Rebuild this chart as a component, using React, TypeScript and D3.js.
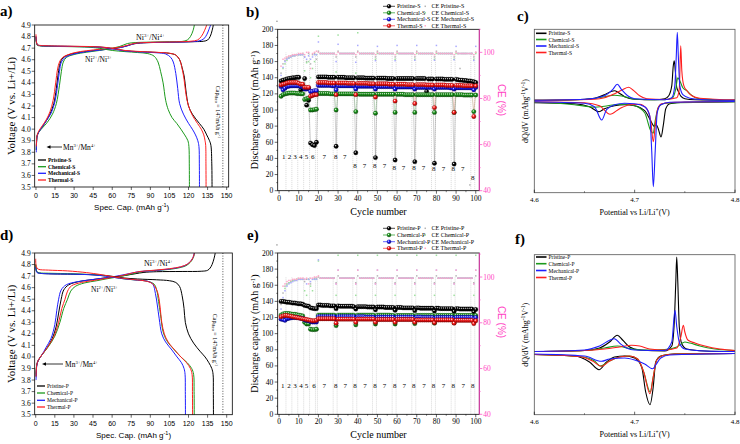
import React from "react";
import * as d3 from "d3";

const SERIF = "'Liberation Serif','DejaVu Serif',serif";
const SANS = "'Liberation Sans','DejaVu Sans',sans-serif";
const COLORS = ["#000000", "#1c9a1c", "#1f1fff", "#ff1f1f"];
const EDGES = ["#000000", "#0b4d0b", "#00007a", "#8a0000"];
const CE_COLORS = ["#b5b5b5", "#9fe09f", "#aaaaff", "#ffa8c8"];
const PINK = "#ff3fc3";

const namesS = ["Pristine-S", "Chemical-S", "Mechanical-S", "Thermal-S"];
const namesP = ["Pristine-P", "Chemical-P", "Mechanical-P", "Thermal-P"];
const ceNamesS = ["CE Pristine-S", "CE Chemical-S", "CE Mechanical-S", "CE Thermal-S"];
const ceNamesP = ["CE Pristine-P", "CE Chemical-P", "CE Mechanical-P", "CE Thermal-P"];

// tick labels
const voltTicks = [3.5, 3.6, 3.7, 3.8, 3.9, 4.0, 4.1, 4.2, 4.3, 4.4, 4.5, 4.6, 4.7, 4.8, 4.9];
const specCapTicks = [0, 15, 30, 45, 60, 75, 90, 105, 120, 135, 150];
const cycleTicks = [0, 10, 20, 30, 40, 50, 60, 70, 80, 90, 100];
const capacityTicks = [0, 20, 40, 60, 80, 100, 120, 140, 160, 180, 200];
const ceTicks = [40, 60, 80, 100];
const potTicks = [4.6, 4.7, 4.8];

type P2 = [number, number];

// ---------- panel a (S) voltage profiles: [capacity, voltage]
const aChargePristine: P2[] = [[0.3,3.82],[0.5,3.9],[1,3.95],[2.5,3.98],[5,4.02],[8,4.07],[11,4.13],[14,4.22],[16,4.35],[17.5,4.48],[19,4.57],[21,4.615],[25,4.64],[30,4.655],[40,4.672],[50,4.685],[58,4.693],[65,4.703],[70,4.715],[75,4.732],[80,4.742],[90,4.748],[110,4.752],[125,4.756],[132,4.76],[135,4.77],[137,4.8],[138.5,4.85],[139.5,4.9]];
const aChargeChemical: P2[] = [[0.3,3.82],[0.8,3.93],[2,3.97],[5,4.01],[9,4.06],[13,4.13],[16,4.22],[18.5,4.38],[20,4.5],[21.5,4.58],[24,4.62],[30,4.645],[40,4.665],[50,4.68],[60,4.7],[66,4.715],[72,4.74],[78,4.748],[90,4.752],[105,4.755],[115,4.758],[119,4.77],[121.5,4.8],[123.5,4.85],[124.6,4.9]];
const aChargeMechanical: P2[] = [[0.3,3.8],[0.8,3.93],[2,3.97],[5,4.02],[8,4.07],[12,4.14],[15,4.24],[17,4.38],[18.5,4.5],[20,4.58],[23,4.62],[30,4.65],[40,4.67],[50,4.683],[58,4.692],[65,4.702],[72,4.72],[78,4.74],[85,4.747],[100,4.75],[120,4.755],[128,4.762],[132,4.78],[134.5,4.82],[136,4.86],[137.4,4.9]];
const aChargeThermal: P2[] = [[0.3,3.85],[0.8,3.94],[2,3.98],[5,4.03],[8,4.08],[11,4.15],[13.5,4.25],[15.5,4.4],[17,4.52],[18.5,4.58],[21,4.62],[30,4.66],[40,4.678],[50,4.69],[58,4.698],[65,4.707],[72,4.725],[78,4.742],[90,4.75],[110,4.754],[122,4.76],[127,4.77],[130,4.8],[132.5,4.85],[134.3,4.9]];
const aDisPristine: P2[] = [[0,4.8],[0.3,4.76],[1,4.73],[3,4.722],[10,4.718],[30,4.715],[45,4.712],[55,4.705],[62,4.693],[70,4.678],[80,4.67],[95,4.663],[105,4.655],[110,4.64],[113,4.6],[115,4.53],[116.7,4.45],[118,4.33],[120,4.2],[123,4.13],[128.5,4.05],[132,4.0],[134.3,3.95],[136.5,3.9],[137.6,3.86],[138.3,3.7],[138.5,3.5]];
const aDisChemical: P2[] = [[0,4.79],[0.3,4.75],[1,4.725],[3,4.72],[10,4.716],[30,4.712],[45,4.705],[52,4.695],[60,4.68],[70,4.67],[80,4.662],[88,4.653],[93,4.63],[96,4.58],[98,4.5],[100,4.4],[102,4.25],[104,4.17],[107,4.1],[110.7,4.05],[114,4.0],[117,3.95],[119.5,3.9],[120.3,3.85],[120.6,3.7],[120.7,3.5]];
const aDisMechanical: P2[] = [[0,4.8],[0.3,4.76],[1,4.73],[3,4.722],[10,4.718],[30,4.714],[45,4.711],[55,4.703],[62,4.69],[70,4.676],[80,4.668],[95,4.66],[102,4.65],[106,4.62],[108,4.58],[110,4.48],[111.5,4.35],[113,4.22],[116,4.13],[120,4.05],[123,4.0],[125.5,3.95],[127.3,3.9],[128.2,3.85],[128.5,3.7],[128.6,3.5]];
const aDisThermal: P2[] = [[0,4.82],[0.3,4.76],[1,4.73],[3,4.724],[10,4.72],[30,4.716],[45,4.713],[55,4.706],[62,4.694],[70,4.68],[80,4.672],[95,4.664],[105,4.656],[110,4.64],[113,4.6],[115,4.52],[116.5,4.43],[118,4.3],[120,4.2],[123,4.12],[127,4.05],[130,4.0],[132,3.95],[133,3.9],[133.5,3.86],[133.7,3.7],[133.8,3.5]];

// ---------- panel d (P) voltage profiles
const dChargePristine: P2[] = [[0.3,3.83],[0.8,3.93],[2,3.97],[5,4.02],[9,4.08],[13,4.16],[16,4.26],[18,4.38],[20,4.5],[22,4.58],[26,4.625],[35,4.655],[45,4.67],[55,4.685],[63,4.695],[70,4.705],[78,4.72],[85,4.732],[95,4.738],[115,4.74],[130,4.742],[135,4.75],[137,4.77],[138.5,4.8],[140,4.85],[141,4.9]];
const dChargeChemical: P2[] = [[0.3,3.85],[0.8,3.93],[2,3.97],[5,4.02],[10,4.09],[15,4.18],[19,4.3],[22,4.42],[25,4.5],[27.5,4.57],[31,4.61],[38,4.64],[48,4.66],[56,4.677],[63,4.69],[69,4.703],[76,4.72],[84,4.74],[92,4.748],[102,4.755],[111,4.768],[118,4.79],[121.5,4.82],[123.8,4.86],[124.8,4.9]];
const dChargeMechanical: P2[] = [[0.3,3.8],[0.8,3.92],[2,3.97],[5,4.02],[8,4.08],[12,4.16],[15,4.28],[16.5,4.4],[18,4.5],[20,4.58],[24,4.625],[33,4.652],[43,4.668],[53,4.682],[60,4.693],[66,4.705],[75,4.725],[82,4.74],[90,4.745],[100,4.755],[110,4.77],[117,4.79],[121,4.82],[123.5,4.86],[124.5,4.9]];
const dChargeThermal: P2[] = [[0.3,3.83],[0.8,3.93],[2,3.97],[5,4.02],[9,4.08],[14,4.17],[18,4.3],[20.5,4.42],[23,4.5],[25,4.57],[28,4.615],[36,4.645],[46,4.663],[55,4.68],[62,4.692],[68,4.705],[75,4.725],[82,4.74],[90,4.748],[100,4.758],[110,4.772],[117,4.792],[121,4.82],[123.5,4.86],[124.6,4.9]];
const dDisPristine: P2[] = [[0,4.8],[0.3,4.76],[1,4.735],[3,4.725],[10,4.72],[30,4.716],[45,4.712],[55,4.705],[62,4.695],[70,4.683],[80,4.675],[95,4.668],[105,4.66],[110,4.645],[113,4.61],[115,4.53],[116.5,4.42],[117.5,4.3],[120,4.2],[124,4.12],[129,4.05],[133,4.0],[136,3.95],[138.3,3.9],[139.3,3.85],[139.5,3.7],[139.6,3.5]];
const dDisChemical: P2[] = [[0,4.8],[0.3,4.76],[1,4.735],[3,4.728],[10,4.725],[30,4.72],[45,4.712],[55,4.7],[62,4.688],[70,4.675],[80,4.665],[88,4.655],[93,4.63],[95,4.58],[96.5,4.48],[98,4.37],[100,4.22],[103,4.14],[109,4.06],[114,4.0],[119,3.95],[122.5,3.9],[124,3.85],[124.4,3.7],[124.5,3.5]];
const dDisMechanical: P2[] = [[0,4.78],[0.3,4.75],[1,4.73],[3,4.725],[10,4.72],[30,4.717],[45,4.71],[55,4.7],[62,4.688],[70,4.676],[80,4.665],[88,4.655],[92,4.63],[94,4.55],[95.5,4.45],[97,4.33],[99,4.2],[102,4.13],[107,4.06],[111,4.0],[114.5,3.95],[116.5,3.9],[117.3,3.85],[117.5,3.7],[117.6,3.5]];
const dDisThermal: P2[] = [[0,4.85],[0.5,4.78],[2,4.76],[10,4.752],[25,4.745],[40,4.73],[50,4.715],[58,4.7],[66,4.685],[75,4.672],[85,4.66],[90,4.645],[93,4.62],[96,4.55],[97.5,4.45],[99,4.3],[101,4.2],[104,4.13],[110,4.05],[114,4.0],[118.5,3.95],[121.5,3.9],[122.8,3.85],[123.1,3.7],[123.2,3.5]];

// ---------- panel b (S) cycling
const capPristineS = [
136,137,137.5,138.5,139,139.5,140,140,140.5,140.5,
125,126,139,106,112,59,57,56,60,141,
141,141,141,141,140.5,140.5,140.5,140.5,55,140.5,
140.5,140.5,140.5,140,140,140,140,140,47,140,
140,140,140,139.5,139.5,139.5,139.5,139.5,41,139.5,
139.5,139.5,139.5,139.5,139,139,139,139,38,139,
139,139,139,139,139,139,139,139,36,139,
139,139,139,139,123,138.5,138.5,138.5,34,138.5,
138.5,138.5,138.5,138,138,138,138,138,33,138,
137.5,137,137,136.5,136.5,136,136,135.5,135,134];
const capChemicalS = [
117,119,120,120.5,121,121,121,121,120.5,120.5,
120,120,113,114,115,100,100,100.5,101,120.5,
120.5,120.5,120.5,120.5,120.5,120,120,120,100,120,
120,120,120,120,120,120,120,120,98,120,
119.5,119.5,119.5,119.5,119.5,119.5,119.5,119.5,96,119.5,
119.5,119.5,119.5,119.5,119.5,119.5,119.5,119.5,97,119.5,
119.5,119.5,119.5,119,119,119,119,119,97,119,
119,119,119,119,119,119,119,119,97,119,
119,119,119,119,119,119,119,119,97,119,
119,119,119,118.5,118.5,118.5,118.5,118.5,98,118.5];
const capMechanicalS = [
129,125,127,129,129.5,130,130,130,130,130,
129,129,126,126,127,123,123,124,124,130.5,
130.5,130.5,130.5,130.5,130.5,130.5,130,130,125,130,
130,130,130,130,130,130,130,130,126,129.5,
129.5,129.5,129.5,129.5,129.5,129.5,129.5,129.5,126,129,
129,129,129,129,129,129,129,129,126,128.5,
128.5,128.5,128.5,128.5,128.5,128.5,128.5,128.5,126,128,
128,128,128,128,128,128,128,128,126,128,
128,128,128,128,128,128,127.5,127.5,126,127.5,
127.5,127.5,127.5,127.5,127.5,127.5,127.5,127.5,125,128];
const capThermalS = [
131,132,132.5,133.5,134,134,134,134,134,133,
132,132,128,128,128,117,118,119,119,134,
134,134,134,134,133.5,133.5,133.5,133.5,119,133.5,
133.5,133.5,133.5,133.5,133,133,133,133,119,133,
133,133,133,133,133,132.5,132.5,132.5,116,132.5,
132.5,132.5,132.5,132.5,132.5,132,132,132,111,132,
132,132,132,132,131.5,131.5,131.5,131.5,108,131.5,
131.5,131.5,131.5,131.5,131,131,131,131,103,131,
131,131,131,131,130.5,130.5,130.5,130.5,97,130.5,
130.5,130.5,130.5,130,130,130,130,130,92,130];
const cePristineS = [
91,95,96.5,97.5,98,98.5,98.5,99,99,99,
99,99.5,98,96,99.5,95,99,99.5,97,100.5,
99.5,99.5,99.5,99.5,99.5,99.5,99.5,99.5,98,100.5,
99.5,99.5,99.5,99.5,99.5,99.5,99.5,99.5,98,100.5,
99.5,99.5,99.5,99.5,99.5,99.5,99.5,99.5,98,100.5,
99.5,99.5,99.5,99.5,99.5,99.5,99.5,99.5,98,100.5,
99.5,99.5,99.5,99.5,99.5,99.5,99.5,99.5,98,100.5,
99.5,99.5,99.5,99.5,99.5,99.5,99.5,99.5,98,100.5,
99.5,99.5,99.5,99.5,99.5,99.5,99.5,99.5,98,100.5,
99.5,93,99.5,99.5,99.5,86.5,42.5,99.5,98,100];
const ceChemicalS = [
88,93,95,96.5,97.5,98,98.5,98.5,99,99,
99,99,92,95.5,96,89,93,96,99,107,
99.5,99.5,99.5,99.5,99.5,99.5,99.5,99.5,91.5,107.5,
99.5,99.5,99.5,99.5,99.5,99.5,99.5,99.5,91,108.5,
99.5,99.5,99.5,99.5,99.5,99.5,99.5,99.5,97,99.5,
99.5,99.5,99.5,99.5,99.5,99.5,99.5,99.5,97,99.5,
99.5,99.5,99.5,99.5,99.5,99.5,99.5,99.5,97,99.5,
99.5,99.5,99.5,99.5,99.5,99.5,99.5,99.5,97,99.5,
99.5,99.5,99.5,99.5,99.5,99.5,99.5,99.5,97,99.5,
99.5,99.5,99.5,99.5,99.5,99.5,99.5,99.5,97,99.5];
const ceMechanicalS = [
90,93.5,96,97,97.5,98,98.5,98.5,99,99,
99,99,98,97,98.5,97,98,99,99,104.5,
99.5,99.5,99.5,99.5,99.5,99.5,99.5,99.5,96,103.5,
99.5,99.5,99.5,99.5,99.5,99.5,99.5,99.5,95.7,103,
99.5,99.5,99.5,99.5,99.5,99.5,99.5,99.5,96.4,102.6,
99.5,99.5,99.5,99.5,99.5,99.5,99.5,99.5,96.4,103,
99.5,99.5,99.5,99.5,99.5,99.5,99.5,99.5,96.6,103,
99.5,99.5,99.5,99.5,99.5,99.5,99.5,99.5,96.6,103,
99.5,99.5,99.5,99.5,99.5,99.5,99.5,99.5,96.8,102.6,
99.5,99.5,99.5,99.5,99.5,99.5,99.5,99.5,96.5,102.6];
const ceThermalS = [
94,97,97.5,98,98.5,98.5,99,99,99,99.5,
99.5,99.5,99,100,100,93,99.5,100,100.5,100,
99.5,99.5,99.5,99.5,99.5,99.5,99.5,99.5,99,100,
99.5,99.5,99.5,99.5,99.5,99.5,99.5,99.5,99,100,
99.5,99.5,99.5,99.5,99.5,99.5,99.5,99.5,99,100,
99.5,99.5,99.5,99.5,99.5,99.5,99.5,99.5,99,100,
99.5,99.5,99.5,99.5,99.5,99.5,99.5,99.5,99,100,
99.5,99.5,99.5,99.5,99.5,99.5,99.5,99.5,99,100,
99.5,99.5,99.5,99.5,99.5,99.5,99.5,99.5,99,100,
99.5,99.5,99.5,99.5,99.5,99.5,99.5,99.5,99,100];

// ---------- panel e (P) cycling
const capPristineP = [
140,140,139.5,139,139,138.5,138,138,137.5,137,
137,136.5,135,134.5,134,132,131.5,131,131,135.5,
135.5,135,135,135,135,134.5,134.5,134.5,131,134.5,
134,134,134,134,134,134,134,133.5,130.5,133.5,
133.5,133.5,133.5,133.5,133,133,133,133,129.5,133,
133,133,133,132.5,132.5,132.5,132.5,132.5,129,132.5,
132.5,132.5,132,132,132,132,132,132,128.5,132,
132,131.5,131.5,131.5,131.5,131.5,131.5,131.5,128,131.5,
131.5,131,131,131,131,131,131,131,127.5,131,
131,130.5,130.5,130.5,130.5,130.5,130.5,130.5,127,130];
const capChemicalP = [
123,124.5,125,125,125,124.5,124,124,123.5,123,
122.5,122,114,112,112,105.5,105,105,105.5,123,
123,123,123,123,123,123,123,123,110,123,
123,123,123,123,123,123,123,123,111,123,
123,123,123,123,123,123,123,123,112,123,
123,123,123,123,123,123,122.5,122.5,112,122.5,
122.5,122.5,122.5,122.5,122.5,122.5,122.5,122.5,112.5,122.5,
122.5,122.5,122.5,122.5,122.5,122.5,122.5,122.5,113,122.5,
122.5,122.5,122.5,122.5,122.5,122.5,122.5,122.5,113.5,122.5,
122.5,122.5,122.5,122.5,122.5,122.5,122.5,122.5,114,122.5];
const capMechanicalP = [
118,117.5,116.5,118.5,119,119.5,120,120,120,119.5,
119,119,117,116.5,116,115,114.5,114.5,114.5,121,
121,121,121,121,121,121,121,121,118,121,
121,121,121,121,121,121,121,121,119,121,
121,121,121,120.5,120.5,120.5,120.5,120.5,119,120.5,
120.5,120.5,120.5,120.5,120.5,120.5,120.5,120.5,119,120.5,
120.5,120.5,120.5,120.5,120.5,120.5,120.5,120.5,119,120.5,
120.5,120.5,120,120,120,120,120,120,118.5,120,
120,120,120,120,120,120,120,120,118.5,120,
120,120,120,120,120,120,120,120,118.5,120];
const capThermalP = [
121,122,122.5,122.5,122,121.5,121,120.5,120,119.5,
119,118.5,118,117.5,117,116.5,116,116,116.5,118.5,
118.5,118.5,118.5,118.5,118.5,118.5,118.5,118.5,113,118,
118,118,118,118,118,118,118,118,114,118,
118,118,118,118,118,118,118,118,114,117.5,
117.5,117.5,117.5,117.5,117.5,117.5,117.5,117.5,114,117.5,
117.5,117.5,117.5,117.5,117.5,117.5,117.5,117.5,114,117,
117,117,117,117,117,117,117,117,113.5,117,
117,117,117,117,117,117,117,117,113,116.5,
116.5,116.5,116.5,116.5,116.5,116.5,116.5,116.5,112.5,116];
const cePristineP = [
88,93,96,97,97.5,98,98.5,98.5,99,99,
99,99,98,99,99,97,99,99.5,99.5,100,
99.5,99.5,99.5,99.5,99.5,99.5,99.5,99.5,97.5,100.5,
99.5,99.5,99.5,99.5,99.5,99.5,99.5,99.5,97.5,100.5,
99.5,99.5,99.5,99.5,99.5,99.5,99.5,99.5,97.5,100.5,
99.5,99.5,99.5,99.5,99.5,99.5,99.5,99.5,97.5,100.5,
99.5,99.5,99.5,99.5,99.5,99.5,99.5,99.5,97.5,100.5,
99.5,99.5,99.5,99.5,99.5,99.5,99.5,99.5,97.5,100.5,
99.5,99.5,99.5,99.5,99.5,99.5,99.5,99.5,97.5,100.5,
99.5,99.5,99.5,99.5,99.5,99.5,99.5,99.5,97.5,100.5];
const ceChemicalP = [
84,90,95,96.5,97.5,98,98.5,98.5,99,99,
99,99,94,92,99,96,94,99,99,107,
99.5,99.5,99.5,99.5,99.5,99.5,99.5,99.5,92,109.5,
99.5,99.5,99.5,99.5,99.5,99.5,99.5,99.5,92,109.5,
99.5,99.5,99.5,99.5,99.5,99.5,99.5,99.5,92,109.5,
99.5,99.5,99.5,99.5,99.5,99.5,99.5,99.5,92,109.5,
99.5,99.5,99.5,99.5,99.5,99.5,99.5,99.5,92,109.5,
99.5,99.5,99.5,99.5,99.5,99.5,99.5,99.5,92,109.5,
99.5,99.5,99.5,99.5,99.5,99.5,99.5,99.5,92,109.5,
99.5,99.5,99.5,99.5,99.5,99.5,99.5,99.5,92,109.5];
const ceMechanicalP = [
86,91,94,96,97,97.5,98,98.5,98.5,99,
99,99,99,97,99,98,99,99,99,107.5,
99.5,99.5,99.5,99.5,99.5,99.5,99.5,99.5,97,103,
99.5,99.5,99.5,99.5,99.5,99.5,99.5,99.5,97,103,
99.5,99.5,99.5,99.5,99.5,99.5,99.5,99.5,97,103,
99.5,99.5,99.5,99.5,99.5,99.5,99.5,99.5,97,103,
99.5,99.5,99.5,99.5,99.5,99.5,99.5,99.5,97,103,
99.5,99.5,99.5,99.5,99.5,99.5,99.5,99.5,97,103,
99.5,99.5,99.5,99.5,99.5,99.5,99.5,99.5,97,103,
99.5,99.5,99.5,99.5,99.5,99.5,99.5,99.5,97,103];
const ceThermalP = [
90,96,97,98,98.5,98.5,99,99,99,99.5,
99.5,99.5,99,99.5,97,99.5,99.5,100,100,100.5,
99.5,99.5,99.5,99.5,99.5,99.5,99.5,99.5,97,103,
99.5,99.5,99.5,99.5,99.5,99.5,99.5,99.5,97,103,
99.5,99.5,99.5,99.5,99.5,99.5,99.5,99.5,97,103,
99.5,99.5,99.5,99.5,99.5,99.5,99.5,99.5,97,103,
99.5,99.5,99.5,99.5,99.5,99.5,99.5,99.5,97,103,
99.5,99.5,99.5,99.5,99.5,99.5,99.5,99.5,97,103,
99.5,99.5,99.5,99.5,99.5,99.5,99.5,99.5,97,103,
99.5,99.5,99.5,99.5,99.5,99.5,99.5,99.5,97,103];

const cycles = d3.range(1, 101);
const divCycles = [3.5,6.5,9.5,12.5,15.5,18.5,19.5,27.5,29.5,37.5,39.5,47.5,49.5,57.5,59.5,67.5,69.5,77.5,79.5,87.5,89.5,97.5,99.5];
const stepTexts = ["1","2","3","4","5","6","7","8","7","8","7","8","7","8","7","8","7","8","7","8","7","8"];
const stepCyclesS = [2.4,5.3,8.1,11,13.9,17.1,23,28.8,33.4,38.6,43.4,48.6,53.6,58.6,63.2,68.6,73.4,78.6,83.6,88.6,93.4,98.5];
const stepCapS = [42,42,42,42,42,42,42,42,42,31,31,31,31,29,29,29,29,28,28,28,28,16];
const stepCyclesP = [1.9,5,8.1,11.2,14,17.8,23,28.8,33.7,38.6,43.7,48.8,53.6,58.8,63.6,68.5,73.7,78.5,83.6,88.5,93.6,98.5];
const stepCapP = [36,36,36,36,36,36,36,36,36,36,36,36,36,36,36,36,36,36,36,36,36,36];

// ---------- panel c (S) dQ/dV : [potential, dQ/dV (arb.)]
const cChPristine: P2[] = [[4.6,5],[4.64,10],[4.66,25],[4.67,60],[4.676,90],[4.68,100],[4.684,80],[4.69,40],[4.7,15],[4.72,10],[4.73,20],[4.734,50],[4.737,150],[4.7385,350],[4.7395,400],[4.7405,300],[4.742,130],[4.744,85],[4.746,45],[4.75,20],[4.76,10],[4.8,5]];
const cChChemical: P2[] = [[4.6,5],[4.65,12],[4.67,40],[4.68,55],[4.688,45],[4.7,15],[4.73,10],[4.738,30],[4.741,120],[4.743,230],[4.745,200],[4.748,130],[4.752,100],[4.756,60],[4.762,25],[4.78,10],[4.8,5]];
const cChMechanical: P2[] = [[4.6,5],[4.65,15],[4.67,50],[4.678,110],[4.6827,164],[4.687,110],[4.693,50],[4.7,20],[4.73,10],[4.737,30],[4.74,150],[4.7415,450],[4.7425,684],[4.7435,450],[4.745,150],[4.748,60],[4.755,25],[4.77,10],[4.8,5]];
const cChThermal: P2[] = [[4.6,5],[4.66,15],[4.67,30],[4.68,70],[4.688,110],[4.694,134],[4.698,110],[4.705,50],[4.712,20],[4.73,12],[4.742,30],[4.7445,120],[4.7459,550],[4.747,300],[4.749,150],[4.752,100],[4.757,50],[4.765,25],[4.8,8]];
const cDisPristine: P2[] = [[4.6,-20],[4.64,-30],[4.655,-60],[4.6645,-110],[4.67,-80],[4.68,-50],[4.69,-40],[4.7,-50],[4.71,-100],[4.716,-200],[4.7195,-255],[4.7215,-240],[4.7235,-280],[4.7263,-363],[4.7285,-250],[4.731,-80],[4.735,-30],[4.75,-15],[4.8,-10]];
const cDisChemical: P2[] = [[4.6,-15],[4.64,-40],[4.655,-60],[4.66,-65],[4.67,-55],[4.68,-40],[4.69,-35],[4.7,-50],[4.71,-120],[4.716,-300],[4.7185,-326],[4.7205,-200],[4.724,-60],[4.73,-25],[4.8,-10]];
const cDisMechanical: P2[] = [[4.6,-10],[4.65,-25],[4.66,-60],[4.6672,-193],[4.672,-90],[4.68,-40],[4.69,-25],[4.7,-30],[4.71,-60],[4.715,-150],[4.717,-500],[4.7186,-860],[4.7205,-500],[4.7225,-120],[4.726,-40],[4.735,-15],[4.8,-8]];
const cDisThermal: P2[] = [[4.6,-10],[4.65,-20],[4.665,-50],[4.6755,-136],[4.685,-80],[4.695,-40],[4.705,-35],[4.712,-80],[4.716,-200],[4.7186,-410],[4.7205,-250],[4.723,-80],[4.727,-30],[4.74,-15],[4.8,-8]];

// ---------- panel f (P) dQ/dV
const fChPristine: P2[] = [[4.6,5],[4.65,15],[4.665,40],[4.675,100],[4.6827,167],[4.688,120],[4.695,50],[4.705,20],[4.73,10],[4.737,60],[4.7395,300],[4.741,700],[4.7419,950],[4.743,700],[4.7445,250],[4.747,80],[4.752,30],[4.77,10],[4.8,5]];
const fChChemical: P2[] = [[4.6,5],[4.65,15],[4.67,40],[4.6827,60],[4.695,35],[4.71,20],[4.73,25],[4.742,50],[4.75,100],[4.755,90],[4.765,60],[4.78,30],[4.8,15]];
const fChMechanical: P2[] = [[4.6,5],[4.65,20],[4.665,60],[4.6797,133],[4.686,80],[4.692,40],[4.7,20],[4.73,15],[4.737,100],[4.7402,417],[4.742,250],[4.745,80],[4.75,30],[4.77,10],[4.8,5]];
const fChThermal: P2[] = [[4.6,5],[4.65,15],[4.67,30],[4.685,50],[4.697,67],[4.705,60],[4.715,30],[4.73,20],[4.742,40],[4.746,150],[4.7485,267],[4.75,200],[4.753,120],[4.76,90],[4.77,60],[4.785,30],[4.8,15]];
const fDisPristine: P2[] = [[4.6,-25],[4.64,-40],[4.655,-100],[4.6645,-177],[4.672,-100],[4.68,-50],[4.69,-40],[4.7,-60],[4.707,-150],[4.711,-400],[4.7153,-527],[4.7185,-350],[4.721,-100],[4.726,-40],[4.74,-20],[4.8,-15]];
const fDisChemical: P2[] = [[4.6,-25],[4.645,-45],[4.66,-90],[4.6655,-140],[4.675,-90],[4.685,-50],[4.695,-40],[4.703,-70],[4.709,-200],[4.7155,-400],[4.7185,-250],[4.722,-80],[4.728,-35],[4.74,-20],[4.8,-15]];
const fDisMechanical: P2[] = [[4.6,-20],[4.65,-40],[4.667,-93],[4.675,-70],[4.69,-60],[4.7,-80],[4.71,-120],[4.718,-167],[4.721,-130],[4.726,-60],[4.735,-30],[4.8,-15]];
const fDisThermal: P2[] = [[4.6,-25],[4.645,-45],[4.658,-90],[4.667,-143],[4.675,-90],[4.685,-50],[4.695,-40],[4.703,-70],[4.709,-200],[4.7153,-417],[4.7185,-250],[4.722,-80],[4.728,-35],[4.74,-20],[4.8,-15]];

type Frame = { l: number; r: number; t: number; b: number };

function Title({ x, y, t }: { x: number; y: number; t: string }) {
  return <text x={x} y={y} fontFamily={SERIF} fontWeight="bold" fontSize={15}>{t}</text>;
}

function Ion({ x, y, fs, a, b, c, d }: any) {
  const s = fs * 0.62, up = fs * 0.42;
  return (
    <text x={x} y={y} fontFamily={SERIF} fontSize={fs}>
      {a}<tspan dy={-up} fontSize={s}>{b}</tspan><tspan dy={up}>{c}</tspan><tspan dy={-up} fontSize={s}>{d}</tspan>
    </text>
  );
}

function VoltPanel({ fr, xDom, charge, discharge, names, bold, legX, legY, capX, capY, ni34, ni23, mn, arrow, title }: any) {
  const x = d3.scaleLinear().domain(xDom).range([fr.l, fr.r]);
  const y = d3.scaleLinear().domain([3.5, 4.9]).range([fr.b, fr.t]);
  const line = d3.line<P2>().x(d => x(d[0])).y(d => y(d[1])).curve(d3.curveCatmullRom.alpha(0.5));
  const cy = (fr.t + fr.b) / 2;
  return (
    <g>
      <defs>
        <clipPath id={"clip" + title[0]}><rect x={fr.l} y={fr.t} width={fr.r - fr.l} height={fr.b - fr.t} /></clipPath>
      </defs>
      <line x1={x(147)} x2={x(147)} y1={fr.t} y2={fr.b} stroke="#555" strokeWidth={1} strokeDasharray="1 1.6" />
      <g clipPath={`url(#clip${title[0]})`}>
        {charge.map((c: P2[], k: number) => <path key={"c" + k} d={line(c) || ""} fill="none" stroke={COLORS[k]} strokeWidth={1} />)}
        {discharge.map((c: P2[], k: number) => <path key={"d" + k} d={line(c) || ""} fill="none" stroke={COLORS[k]} strokeWidth={1} />)}
      </g>
      <rect x={fr.l} y={fr.t} width={fr.r - fr.l} height={fr.b - fr.t} fill="none" stroke="#000" strokeWidth={0.8} />
      {voltTicks.map(v => (
        <g key={v}>
          <line x1={fr.l - 3} x2={fr.l} y1={y(v)} y2={y(v)} stroke="#000" strokeWidth={0.6} />
          <text x={fr.l - 4} y={y(v) + 2.5} textAnchor="end" fontFamily={SERIF} fontSize={7.5}>{v.toFixed(1)}</text>
        </g>
      ))}
      {specCapTicks.map(v => (
        <g key={v}>
          <line x1={x(v)} x2={x(v)} y1={fr.b} y2={fr.b + 3} stroke="#000" strokeWidth={0.6} />
          <text x={x(v)} y={fr.b + 11} textAnchor="middle" fontFamily={SANS} fontSize={7}>{v}</text>
        </g>
      ))}
      <text transform={`translate(15,${cy}) rotate(-90)`} textAnchor="middle" fontFamily={SERIF} fontSize={11}>Voltage (V vs. Li+/Li)</text>
      <text x={(fr.l + fr.r) / 2} y={fr.b + 23} textAnchor="middle" fontFamily={SANS} fontSize={8}>
        Spec. Cap. (mAh g<tspan dy={-3} fontSize={5.5}>-1</tspan><tspan dy={3}>)</tspan>
      </text>
      <text transform={`translate(${capX},${capY}) rotate(90)`} textAnchor="middle" fontFamily={SERIF} fontSize={6}>
        Cap<tspan dy={1.5} fontSize={4.2}>theo</tspan><tspan dy={-1.5}> = 147mAh g</tspan><tspan dy={-2} fontSize={4.2}>-1</tspan>
      </text>
      <Ion x={ni34[0]} y={ni34[1]} fs={8} a="Ni" b="3+" c="/Ni" d="4+" />
      <Ion x={ni23[0]} y={ni23[1]} fs={7.5} a="Ni" b="2+" c="/Ni" d="3+" />
      <Ion x={mn[0]} y={mn[1]} fs={7.5} a="Mn" b="3+" c="/Mn" d="4+" />
      <line x1={arrow[0] + 3} x2={arrow[1]} y1={arrow[2]} y2={arrow[2]} stroke="#000" strokeWidth={0.8} />
      <path d={`M${arrow[0]},${arrow[2]} l4,-1.8 l0,3.6 z`} fill="#000" />
      {names.map((n: string, k: number) => (
        <g key={n}>
          <line x1={legX} x2={legX + 8} y1={legY[k]} y2={legY[k]} stroke={COLORS[k]} strokeWidth={1.3} />
          <text x={legX + 10} y={legY[k] + 2} fontFamily={SERIF} fontSize={5.5} fontWeight={bold ? "bold" : "normal"}>{n}</text>
        </g>
      ))}
      <Title x={title[1]} y={title[2]} t={title[0]} />
    </g>
  );
}

function CyclePanel({ fr, ceMax, caps, ces, names, ceNames, stepX, stepY, legY, ceLabelY, title }: any) {
  const x = d3.scaleLinear().domain([-0.7, 101.8]).range([fr.l, fr.r]);
  const y = d3.scaleLinear().domain([0, 200]).range([fr.b, fr.t]);
  const yr = d3.scaleLinear().domain([40, ceMax]).range([fr.b, fr.t]);
  const line = d3.line<number>().x((_, i) => x(cycles[i])).y(d => y(d));
  const cy = (fr.t + fr.b) / 2;
  return (
    <g>
      {divCycles.map(c => <line key={c} x1={x(c)} x2={x(c)} y1={fr.b} y2={yr(100)} stroke="#b0b0b0" strokeWidth={0.6} strokeDasharray="0.8 1.2" />)}
      {ces.map((arr: number[], k: number) => arr.map((v, i) => (
        <rect key={k + "-" + i} x={x(cycles[i]) - 0.75} y={yr(v) - 0.75} width={1.5} height={1.5} fill={CE_COLORS[k]} />
      )))}
      {caps.map((arr: number[], k: number) => <path key={"l" + k} d={line(arr) || ""} fill="none" stroke={COLORS[k]} strokeOpacity={0.3} strokeWidth={0.6} />)}
      {caps.map((arr: number[], k: number) => arr.map((v, i) => (
        <circle key={k + "c" + i} cx={x(cycles[i])} cy={y(v)} r={2.2} fill={`url(#ball${k})`} stroke={EDGES[k]} strokeWidth={0.3} />
      )))}
      {stepX.map((c: number, i: number) => (
        <text key={"s" + i} x={x(c)} y={y(stepY[i]) + 2.5} textAnchor="middle" fontFamily={SERIF} fontSize={7}>{stepTexts[i]}</text>
      ))}
      <rect x={fr.l} y={fr.t} width={fr.r - fr.l} height={fr.b - fr.t} fill="none" stroke="#000" strokeWidth={0.8} />
      <line x1={fr.r} x2={fr.r} y1={fr.t} y2={fr.b} stroke={PINK} strokeWidth={0.9} />
      {capacityTicks.map(v => (
        <g key={v}>
          <line x1={fr.l - 3} x2={fr.l} y1={y(v)} y2={y(v)} stroke="#000" strokeWidth={0.6} />
          <line x1={fr.l - 1.5} x2={fr.l} y1={y(v + 10)} y2={y(v + 10)} stroke="#000" strokeWidth={0.5} />
          <text x={fr.l - 4.5} y={y(v) + 2.5} textAnchor="end" fontFamily={SERIF} fontSize={7.5}>{v}</text>
        </g>
      ))}
      {cycleTicks.map(v => (
        <g key={v}>
          <line x1={x(v)} x2={x(v)} y1={fr.b} y2={fr.b + 3} stroke="#000" strokeWidth={0.6} />
          {v < 100 && <line x1={x(v + 5)} x2={x(v + 5)} y1={fr.b} y2={fr.b + 1.5} stroke="#000" strokeWidth={0.5} />}
          <text x={x(v)} y={fr.b + 10} textAnchor="middle" fontFamily={SERIF} fontSize={7.5}>{v}</text>
        </g>
      ))}
      {ceTicks.map(v => (
        <g key={v}>
          <line x1={fr.r} x2={fr.r + 3} y1={yr(v)} y2={yr(v)} stroke={PINK} strokeWidth={0.7} />
          <line x1={fr.r} x2={fr.r + 1.5} y1={yr(v + 10)} y2={yr(v + 10)} stroke={PINK} strokeWidth={0.5} />
          <text x={fr.r + 4} y={yr(v) + 2.5} fontFamily={SERIF} fontSize={7.5} fill={PINK}>{v}</text>
        </g>
      ))}
      <text transform={`translate(258,${cy}) rotate(-90)`} textAnchor="middle" fontFamily={SERIF} fontSize={10}>
        Discharge capacity (mAh g<tspan dy={-3.5} fontSize={6.5}>-1</tspan><tspan dy={3.5}>)</tspan>
      </text>
      <text x={(fr.l + fr.r) / 2} y={fr.b + 24} textAnchor="middle" fontFamily={SERIF} fontSize={10}>Cycle number</text>
      <text transform={`translate(497.5,${ceLabelY}) rotate(90)`} textAnchor="middle" fontFamily={SANS} fontSize={10} fill={PINK}>CE (%)</text>
      {names.map((n: string, k: number) => (
        <g key={n}>
          <line x1={383} x2={395} y1={legY[k]} y2={legY[k]} stroke={COLORS[k]} strokeWidth={0.7} />
          <circle cx={389} cy={legY[k]} r={2} fill={`url(#ball${k})`} stroke={EDGES[k]} strokeWidth={0.3} />
          <text x={397} y={legY[k] + 2} fontFamily={SERIF} fontSize={6}>{n}</text>
          <rect x={424.5} y={legY[k] - 0.75} width={1.5} height={1.5} fill={CE_COLORS[k]} />
          <text x={431.5} y={legY[k] + 2} fontFamily={SERIF} fontSize={6}>{ceNames[k]}</text>
        </g>
      ))}
      <Title x={title[1]} y={title[2]} t={title[0]} />
    </g>
  );
}

function DqPanel({ fr, yDom, charges, discharges, names, legY, title }: any) {
  const x = d3.scaleLinear().domain([4.6, 4.8]).range([fr.l, fr.r]);
  const y = d3.scaleLinear().domain(yDom).range([fr.b, fr.t]);
  const line = d3.line<P2>().x(d => x(d[0])).y(d => y(d[1])).curve(d3.curveMonotoneX);
  const cy = (fr.t + fr.b) / 2;
  const order = [0, 1, 3, 2];
  return (
    <g>
      {order.map(k => <path key={"d" + k} d={line(discharges[k]) || ""} fill="none" stroke={COLORS[k]} strokeWidth={1.1} />)}
      {order.map(k => <path key={"c" + k} d={line(charges[k]) || ""} fill="none" stroke={COLORS[k]} strokeWidth={1.1} />)}
      <rect x={fr.l} y={fr.t} width={fr.r - fr.l} height={fr.b - fr.t} fill="none" stroke="#555" strokeWidth={0.8} />
      {potTicks.map(v => (
        <g key={v}>
          <line x1={x(v)} x2={x(v)} y1={fr.b} y2={fr.b - 3} stroke="#000" strokeWidth={0.6} />
          <line x1={x(v + 0.05)} x2={x(v + 0.05)} y1={fr.b} y2={fr.b - 1.5} stroke="#000" strokeWidth={0.5} />
          <text x={x(v)} y={fr.b + 9.5} textAnchor="middle" fontFamily={SERIF} fontSize={7}>{v.toFixed(1)}</text>
        </g>
      ))}
      <text transform={`translate(528,${cy}) rotate(-90)`} textAnchor="middle" fontFamily={SERIF} fontSize={8}>
        dQ/dV (mAhg<tspan dy={-2.8} fontSize={5.5}>-1</tspan><tspan dy={2.8}>V</tspan><tspan dy={-2.8} fontSize={5.5}>-1</tspan><tspan dy={2.8}>)</tspan>
      </text>
      <text x={(fr.l + fr.r) / 2} y={fr.b + 22} textAnchor="middle" fontFamily={SERIF} fontSize={8}>
        Potential vs Li/Li<tspan dy={-2.8} fontSize={5.5}>+</tspan><tspan dy={2.8}>(V)</tspan>
      </text>
      {names.map((n: string, k: number) => (
        <g key={n}>
          <line x1={536} x2={546.5} y1={legY[k]} y2={legY[k]} stroke={COLORS[k]} strokeWidth={1.6} />
          <text x={548.5} y={legY[k] + 2} fontFamily={SERIF} fontSize={5.5}>{n}</text>
        </g>
      ))}
      <Title x={title[1]} y={title[2]} t={title[0]} />
    </g>
  );
}

export default function App() {
  const frA: Frame = { l: 34.7, r: 228.7, t: 25, b: 187 };
  const frD: Frame = { l: 34.7, r: 232.3, t: 253, b: 414.7 };
  const frB: Frame = { l: 277.7, r: 479.3, t: 29.3, b: 190.7 };
  const frE: Frame = { l: 277.7, r: 479.3, t: 253, b: 414.3 };
  const frC: Frame = { l: 534.3, r: 735, t: 29.3, b: 192.7 };
  const frF: Frame = { l: 534.3, r: 735, t: 254.7, b: 414.7 };
  return (
    <svg width={740} height={444} style={{ position: "absolute", left: 0, top: 0, background: "#fff" }}>
      <defs>
        {COLORS.map((c, k) => (
          <radialGradient key={k} id={"ball" + k} cx="38%" cy="35%" r="65%">
            <stop offset="0%" stopColor="#ffffff" />
            <stop offset="40%" stopColor={c} />
            <stop offset="100%" stopColor={EDGES[k]} />
          </radialGradient>
        ))}
      </defs>
      <rect width={740} height={444} fill="#fff" />
      <VoltPanel fr={frA} xDom={[-1, 151.6]}
        charge={[aChargePristine, aChargeChemical, aChargeMechanical, aChargeThermal]}
        discharge={[aDisPristine, aDisChemical, aDisMechanical, aDisThermal]}
        names={namesS} bold={true} legX={38} legY={[160, 166.7, 173.3, 180]}
        capX={216} capY={112} ni34={[136, 40]} ni23={[85, 62]} mn={[63, 150]} arrow={[46.5, 62, 147]}
        title={["a)", 0, 16]} />
      <VoltPanel fr={frD} xDom={[-0.8, 154.4]}
        charge={[dChargePristine, dChargeChemical, dChargeMechanical, dChargeThermal]}
        discharge={[dDisPristine, dDisChemical, dDisMechanical, dDisThermal]}
        names={namesP} bold={false} legX={37} legY={[386, 393, 400.3, 407]}
        capX={213} capY={340} ni34={[144, 266]} ni23={[91, 292]} mn={[65, 367]} arrow={[42, 63, 364]}
        title={["d)", 0, 240]} />
      <CyclePanel fr={frB} ceMax={110}
        caps={[capPristineS, capChemicalS, capMechanicalS, capThermalS]}
        ces={[cePristineS, ceChemicalS, ceMechanicalS, ceThermalS]}
        names={namesS} ceNames={ceNamesS} stepX={stepCyclesS} stepY={stepCapS}
        legY={[6.3, 12.8, 19.3, 25.8]} ceLabelY={100} title={["b)", 246, 17]} />
      <CyclePanel fr={frE} ceMax={110.5}
        caps={[capPristineP, capChemicalP, capMechanicalP, capThermalP]}
        ces={[cePristineP, ceChemicalP, ceMechanicalP, ceThermalP]}
        names={namesP} ceNames={ceNamesP} stepX={stepCyclesP} stepY={stepCapP}
        legY={[228.3, 235, 241.7, 248.3]} ceLabelY={322} title={["e)", 247, 240]} />
      <DqPanel fr={frC} yDom={[-920, 714]}
        charges={[cChPristine, cChChemical, cChMechanical, cChThermal]}
        discharges={[cDisPristine, cDisChemical, cDisMechanical, cDisThermal]}
        names={namesS} legY={[33.3, 39.5, 46, 52.5]} title={["c)", 517, 21]} />
      <DqPanel fr={frF} yDom={[-627, 973]}
        charges={[fChPristine, fChChemical, fChMechanical, fChThermal]}
        discharges={[fDisPristine, fDisChemical, fDisMechanical, fDisThermal]}
        names={namesP} legY={[257, 263.7, 270.5, 277.5]} title={["f)", 515, 244]} />
    </svg>
  );
}
